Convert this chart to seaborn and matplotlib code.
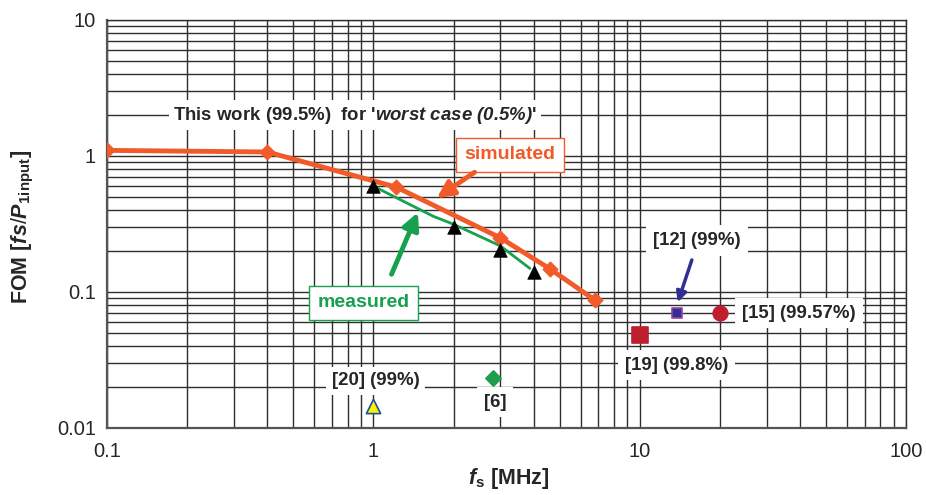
import numpy as np
import pandas as pd
import matplotlib
matplotlib.use("Agg")
import matplotlib.pyplot as plt
import matplotlib.ticker as mticker
import seaborn as sns

# ---------------- data ----------------
sim_x = [0.1, 0.4, 1.22, 3.0, 4.6, 6.8]
sim_y = [1.1, 1.07, 0.59, 0.25, 0.148, 0.087]

meas_x = [1.0, 2.0, 3.0, 4.0]
meas_y = [0.6, 0.30, 0.205, 0.14]
meas_line_x = [1.0, 1.68, 2.0, 3.0, 3.87]
meas_line_y = [0.6, 0.36, 0.315, 0.218, 0.149]

ref_names = ["[12] (99%)", "[15] (99.57%)", "[19] (99.8%)", "[20] (99%)", "[6]"]
ref_x = [13.8, 20.0, 10.0, 1.0, 2.82]
ref_y = [0.070, 0.070, 0.048, 0.0145, 0.0232]

x_ticks = [0.1, 1, 10, 100]
x_ticklabels = ["0.1", "1", "10", "100"]
y_ticks = [0.01, 0.1, 1, 10]
y_ticklabels = ["0.01", "0.1", "1", "10"]

# ---------------- style ----------------
sns.set_style("white")
plt.rcParams["font.family"] = ["Liberation Sans", "DejaVu Sans"]
plt.rcParams["mathtext.fontset"] = "custom"
plt.rcParams["mathtext.rm"] = "Liberation Sans"
plt.rcParams["mathtext.it"] = "Liberation Sans:italic"
plt.rcParams["mathtext.bf"] = "Liberation Sans:bold"
plt.rcParams["mathtext.bfit"] = "Liberation Sans:italic:bold"

ORANGE = "#F15A29"
GREEN = "#17A04E"
GRID = "#2e2e2e"

fig = plt.figure(figsize=(9.26, 4.95), dpi=100)
ax = fig.add_axes([0.1156, 0.1354, 0.8628, 0.8242])
ax.set_xscale("log")
ax.set_yscale("log")
ax.set_xlim(0.1, 100)
ax.set_ylim(0.01, 10)

ax.xaxis.set_minor_locator(mticker.LogLocator(base=10, subs=np.arange(2, 10), numticks=50))
ax.yaxis.set_minor_locator(mticker.LogLocator(base=10, subs=np.arange(2, 10), numticks=50))
ax.grid(True, which="both", color=GRID, lw=1.0)
ax.set_axisbelow(True)
for s in ax.spines.values():
    s.set_color(GRID)
    s.set_linewidth(1.0)
ax.spines["left"].set_linewidth(1.6)
ax.spines["bottom"].set_linewidth(1.6)
ax.spines["left"].set_color("#555555")
ax.spines["bottom"].set_color("#555555")

ax.set_xticks(x_ticks)
ax.set_xticklabels(x_ticklabels)
ax.set_yticks(y_ticks)
ax.set_yticklabels(y_ticklabels)
ax.tick_params(which="major", length=5, width=1.2, color="#555555", labelsize=14.5, pad=3)
ax.tick_params(axis="x", which="major", pad=5)
ax.tick_params(which="minor", length=0)

# ---------------- marks ----------------
sim_df = pd.DataFrame({"x": sim_x, "y": sim_y})
meas_df = pd.DataFrame({"x": meas_x, "y": meas_y})
meas_line_df = pd.DataFrame({"x": meas_line_x, "y": meas_line_y})

sns.lineplot(data=meas_line_df, x="x", y="y", ax=ax, color=GREEN, lw=2.0, sort=False, zorder=3)
sns.lineplot(data=sim_df, x="x", y="y", ax=ax, color=ORANGE, lw=3.5, sort=False, zorder=4)
sns.scatterplot(data=sim_df, x="x", y="y", ax=ax, marker="D", s=62, color=ORANGE,
                edgecolor=ORANGE, linewidth=0.5, zorder=5)
sns.scatterplot(data=meas_df, x="x", y="y", ax=ax, marker="^", s=95, color="black",
                edgecolor="black", linewidth=0.5, zorder=6)

ref_markers = ["s", "o", "s", "^", "D"]
ref_sizes = [55, 110, 120, 105, 60]
ref_face = ["#2E3192", "#BE1E2D", "#BE1E2D", "#FFF200", "#1E9E4A"]
ref_edge = ["#A03FA0", "#BE1E2D", "#BE1E2D", "#1F4E9C", "#1E9E4A"]
for i in range(len(ref_names)):
    sns.scatterplot(x=[ref_x[i]], y=[ref_y[i]], ax=ax, marker=ref_markers[i], s=ref_sizes[i],
                    color=ref_face[i], edgecolor=ref_edge[i], linewidth=1.2, zorder=6)

ax.set_xlabel("")
ax.set_ylabel("")

# ---------------- annotations ----------------
wbox = dict(facecolor="white", edgecolor="none", pad=3)
fs = 13.4
ax.text(0.85, 2.0, "This work (99.5%)  for '$\\mathbfit{worst\\ case\\ (0.5\\%)}$'",
        ha="center", va="center", fontsize=fs, fontweight="bold", bbox=wbox, zorder=7)

ax.text(3.26, 1.02, "simulated", ha="center", va="center", fontsize=14, fontweight="bold",
        color=ORANGE, bbox=dict(facecolor="white", edgecolor=ORANGE, lw=1.0, pad=6), zorder=7)
ax.annotate("", xy=(1.73, 0.49), xytext=(2.4, 0.76),
            arrowprops=dict(arrowstyle="-|>,head_width=0.5,head_length=1.0", lw=3.5,
                            color=ORANGE, shrinkA=0, shrinkB=0), zorder=7)

ax.text(0.92, 0.083, "measured", ha="center", va="center", fontsize=14, fontweight="bold",
        color=GREEN, bbox=dict(facecolor="white", edgecolor=GREEN, lw=1.0, pad=6), zorder=7)
ax.annotate("", xy=(1.47, 0.385), xytext=(1.17, 0.135),
            arrowprops=dict(arrowstyle="-|>,head_width=0.5,head_length=1.0", lw=3.5,
                            color=GREEN, shrinkA=0, shrinkB=0), zorder=7)

ax.text(16.4, 0.24, ref_names[0], ha="center", va="center", fontsize=fs, fontweight="bold",
        bbox=dict(facecolor="white", edgecolor="none", pad=5), zorder=7)
ax.annotate("", xy=(13.9, 0.084), xytext=(15.7, 0.172),
            arrowprops=dict(arrowstyle="-|>,head_width=0.3,head_length=0.6", lw=2.5,
                            color="#2E3192", shrinkA=0, shrinkB=0), zorder=7)

ax.text(24.3, 0.070, ref_names[1], ha="left", va="center", fontsize=fs, fontweight="bold",
        bbox=dict(facecolor="white", edgecolor="none", pad=5), zorder=7)
ax.text(13.8, 0.029, ref_names[2], ha="center", va="center", fontsize=fs, fontweight="bold",
        bbox=dict(facecolor="white", edgecolor="none", pad=5), zorder=7)
ax.text(1.02, 0.0222, ref_names[3], ha="center", va="center", fontsize=fs, fontweight="bold",
        bbox=dict(facecolor="white", edgecolor="none", pad=4), zorder=7)
ax.text(2.86, 0.0155, ref_names[4], ha="center", va="center", fontsize=fs, fontweight="bold",
        bbox=dict(facecolor="white", edgecolor="none", pad=5), zorder=7)

# ---------------- axis labels ----------------
fig.text(0.025, 0.542, "FOM [$\\mathbfit{fs}/\\mathbfit{P}_{\\mathbf{1input}}$]", rotation=90,
         ha="center", va="center", fontsize=15.5, fontweight="bold")
fig.text(0.549, 0.033, "$\\mathbfit{f}_{\\mathbf{s}}$ [MHz]", ha="center", va="center",
         fontsize=15.5, fontweight="bold")

fig.savefig("out.png", dpi=100)
